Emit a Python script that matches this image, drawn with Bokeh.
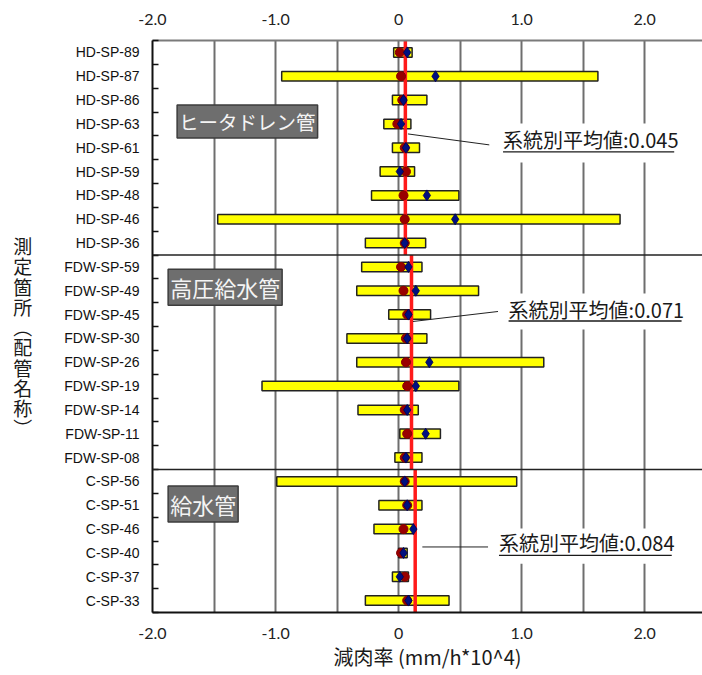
import numpy as np
from bokeh.plotting import figure
from bokeh.models import (Range1d, LinearAxis, FixedTicker, Span, Label,
                          ColumnDataSource)
from bokeh.embed import file_html
from bokeh.resources import INLINE

# ---------------- data ----------------
names = ["HD-SP-89", "HD-SP-87", "HD-SP-86", "HD-SP-63", "HD-SP-61", "HD-SP-59",
         "HD-SP-48", "HD-SP-46", "HD-SP-36",
         "FDW-SP-59", "FDW-SP-49", "FDW-SP-45", "FDW-SP-30", "FDW-SP-26", "FDW-SP-19",
         "FDW-SP-14", "FDW-SP-11", "FDW-SP-08",
         "C-SP-56", "C-SP-51", "C-SP-46", "C-SP-40", "C-SP-37", "C-SP-33"]
min_vals = [-0.04, -0.95, -0.05, -0.12, -0.05, -0.15, -0.22, -1.47, -0.27,
            -0.30, -0.34, -0.08, -0.42, -0.34, -1.11, -0.33, 0.01, -0.03,
            -0.99, -0.16, -0.20, 0.00, -0.05, -0.27]
max_vals = [0.11, 1.62, 0.23, 0.10, 0.17, 0.13, 0.49, 1.80, 0.22,
            0.19, 0.65, 0.26, 0.23, 1.18, 0.49, 0.16, 0.34, 0.19,
            0.96, 0.19, 0.14, 0.07, 0.08, 0.41]
circle_vals = [0.01, 0.02, 0.03, -0.01, 0.05, 0.06, 0.04, 0.05, 0.05,
               0.02, 0.04, 0.07, 0.06, 0.06, 0.07, 0.05, 0.07, 0.05,
               0.05, 0.07, 0.04, 0.02, 0.05, 0.07]
diamond_vals = [0.07, 0.30, 0.04, 0.02, 0.06, 0.01, 0.23, 0.46, 0.05,
                0.08, 0.14, 0.08, 0.07, 0.25, 0.14, 0.07, 0.22, 0.06,
                0.05, 0.07, 0.12, 0.04, 0.01, 0.08]

group_names = ["ヒータドレン管", "高圧給水管", "給水管"]
group_sizes = [9, 9, 6]
group_line_pos = [0.055, 0.105, 0.135]
group_mean_text = ["0.045", "0.071", "0.084"]

x_tick_values = [-2, -1, 0, 1, 2]
x_tick_labels = ["-2.0", "-1.0", "0", "1.0", "2.0"]
x_grid_values = [-2.0, -1.5, -1.0, -0.5, 0.0, 0.5, 1.0, 1.5, 2.0]

x_title = "減肉率 (mm/h*10^4)"
y_title_chars = ["測", "定", "箇", "所", "︵", "配", "管", "名", "称", "︶"]

# ---------------- figure ----------------
n = len(names)
ypos = list(range(n))

p = figure(width=702, height=675, x_range=Range1d(-2.0, 2.47),
           y_range=Range1d(n - 0.5, -0.5), output_backend="svg",
           toolbar_location=None, min_border_left=152, min_border_right=0,
           min_border_top=40, min_border_bottom=63)
p.outline_line_color = None
p.background_fill_color = "white"
p.border_fill_color = "white"

# grid
p.xgrid.ticker = FixedTicker(ticks=x_grid_values)
p.xgrid.grid_line_color = "#6e6e6e"
p.xgrid.grid_line_width = 2
p.ygrid.visible = False

# bottom axis
xa = p.xaxis[0]
xa.ticker = FixedTicker(ticks=x_tick_values)
xa.major_label_overrides = dict(zip(x_tick_values, x_tick_labels))
xa.major_tick_line_color = None
xa.minor_tick_line_color = None
xa.major_tick_out = 0
xa.major_tick_in = 0
xa.major_label_standoff = 15
xa.major_label_text_font = "Lato"
xa.major_label_text_font_size = "16px"
xa.major_label_text_color = "#222222"
xa.axis_line_color = "#111111"
xa.axis_line_width = 2
xa.axis_label = x_title
xa.axis_label_text_font = "Noto Sans CJK JP"
xa.axis_label_text_font_size = "20px"
xa.axis_label_text_font_style = "normal"
xa.axis_label_text_color = "#1a1a1a"
xa.axis_label_standoff = 0

# top axis
top = LinearAxis(ticker=FixedTicker(ticks=x_tick_values),
                 major_label_overrides=dict(zip(x_tick_values, x_tick_labels)))
top.major_tick_line_color = None
top.minor_tick_line_color = None
top.major_tick_out = 0
top.major_tick_in = 0
top.major_label_standoff = 16
top.major_label_text_font = "Lato"
top.major_label_text_font_size = "16px"
top.major_label_text_color = "#222222"
top.axis_line_color = "#7a7a7a"
top.axis_line_width = 2
p.add_layout(top, "above")

# left axis
ya = p.yaxis[0]
boundaries = [i - 0.5 for i in range(n + 1)]
ya.ticker = FixedTicker(ticks=ypos, minor_ticks=boundaries)
ya.major_label_overrides = dict(zip(ypos, names))
ya.major_tick_line_color = None
ya.major_tick_out = 0
ya.major_tick_in = 0
ya.minor_tick_in = 6
ya.minor_tick_out = 0
ya.minor_tick_line_color = "#111111"
ya.minor_tick_line_width = 1.5
ya.major_label_standoff = 13
ya.major_label_text_font = "Liberation Sans"
ya.major_label_text_font_size = "14px"
ya.major_label_text_color = "#111111"
ya.axis_line_color = "#111111"
ya.axis_line_width = 2
ya.axis_label = "\n" + "\n".join(y_title_chars)
ya.axis_label_orientation = "horizontal"
ya.axis_label_text_font = "Noto Sans CJK JP"
ya.axis_label_text_font_size = "19px"
ya.axis_label_text_font_style = "normal"
ya.axis_label_text_color = "#1a1a1a"
ya.axis_label_text_line_height = 0.75
ya.axis_label_standoff = 29

starts = np.cumsum([0] + group_sizes[:-1])
ends = np.cumsum(group_sizes)

# white background boxes behind the callout texts (cut the grid lines)
box_top = [2.98, 10.12, 19.98]
box_bottom = [4.62, 11.63, 21.45]
p.quad(left=[0.72] * 3, right=[2.47] * 3, top=box_top, bottom=box_bottom,
       fill_color="white", line_color=None)

# group separators
for e in ends[:-1]:
    p.add_layout(Span(location=e - 0.5, dimension="width",
                      line_color="#222222", line_width=1.5))

# bars
src = ColumnDataSource(dict(y=ypos, left=min_vals, right=max_vals,
                            c=circle_vals, d=diamond_vals))
p.hbar(y="y", left="left", right="right", height=0.4, source=src,
       fill_color="#ffff00", line_color="#222222", line_width=1.5)

# group mean lines
p.segment(x0=group_line_pos, x1=group_line_pos,
          y0=[s - 0.5 for s in starts], y1=[e - 0.5 for e in ends],
          line_color="#ff1a1a", line_width=3.5)

# markers
p.scatter(x="c", y="y", source=src, marker="circle", size=9,
          fill_color="#990000", line_color="#880000")
p.scatter(x="d", y="y", source=src, marker="diamond", size=11,
          fill_color="#001080", line_color="#000050", line_width=0.8)

# leader lines
leader_x0 = [0.076, 0.117, 0.193]
leader_y0 = [3.42, 11.29, 20.75]
leader_x1 = [0.737, 0.808, 0.727]
leader_y1 = [3.88, 10.87, 20.75]
p.segment(x0=leader_x0, y0=leader_y0, x1=leader_x1, y1=leader_y1,
          line_color="#222222", line_width=1)

# callout texts + underline
text_x = [0.849, 0.894, 0.816]
text_y = [3.66, 10.79, 20.58]
under_y = [4.17, 11.27, 21.1]
under_x1 = [2.24, 2.30, 2.22]
for i in range(3):
    p.add_layout(Label(x=text_x[i], y=text_y[i],
                       text="系統別平均値:" + group_mean_text[i],
                       text_font="Noto Sans CJK JP", text_font_size="20px",
                       text_color="#1a1a1a", text_baseline="middle",
                       text_align="left"))
p.segment(x0=text_x, x1=under_x1, y0=under_y, y1=under_y,
          line_color="#1a1a1a", line_width=1.3)

# group name boxes
gx = [-1.80, -1.873, -1.873]
gy = [2.9, 9.85, 18.95]
gsize = ["19.5px", "22px", "22px"]
for i in range(3):
    p.add_layout(Label(x=gx[i], y=gy[i], text=group_names[i],
                       text_font="Noto Sans CJK JP", text_font_size=gsize[i],
                       text_color="#f4f4f4", text_baseline="middle",
                       text_align="left", background_fill_color="#6e6e6e",
                       border_line_color="#3c3c3c", border_line_width=1.5,
                       padding=2))

open("out.html", "w").write(file_html(p, INLINE))
